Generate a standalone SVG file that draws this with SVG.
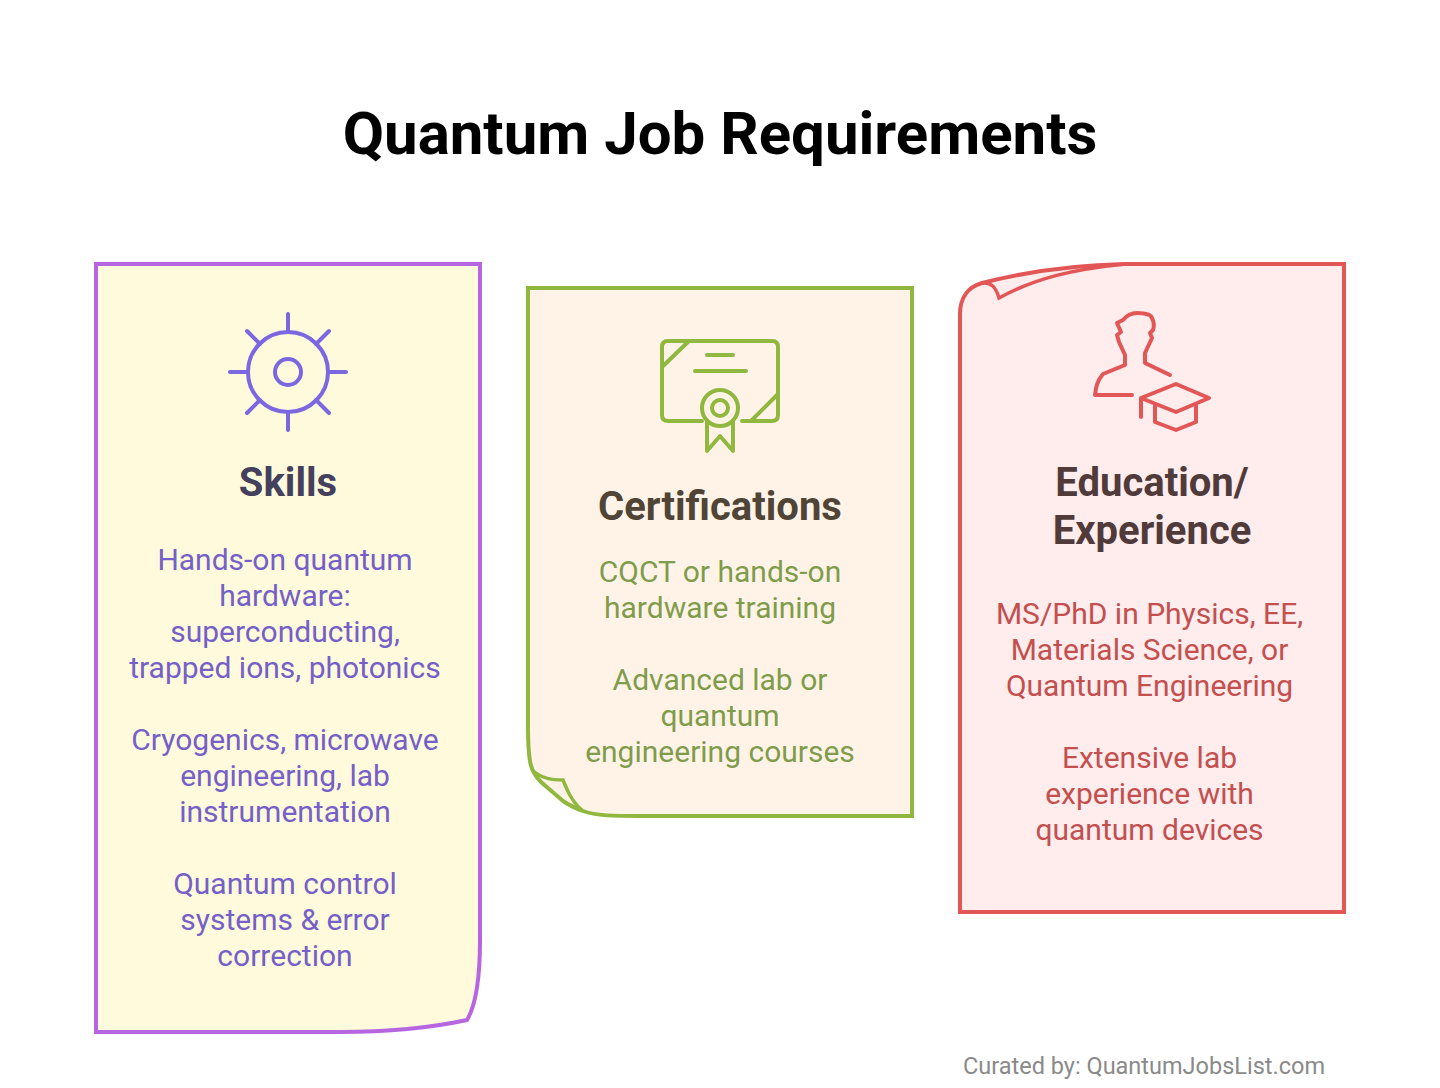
<svg xmlns="http://www.w3.org/2000/svg" width="1440" height="1088" viewBox="0 0 1440 1088">
<style>
text{font-family:Roboto,"Liberation Sans",sans-serif;text-anchor:middle}
.h{font-size:40px;font-weight:700}
.b{font-size:30px}
.card{stroke-width:4;stroke-miterlimit:10}
.ic{fill:none;stroke-width:4;stroke-linecap:round;stroke-linejoin:round}
</style>
<rect width="1440" height="1088" fill="#fff"/>
<text id="title" x="720" y="154" font-size="60" font-weight="700" fill="#000">Quantum Job Requirements</text>
<g id="skills">
<path class="card" fill="#fffadb" stroke="#b566e0" d="M96 264H480V940C480 975 476 1005 467 1020C430 1028 390 1032 340 1032H96Z"/>
<g class="ic" stroke="#7b68e0"><circle cx="288" cy="372" r="40"/><circle cx="288" cy="372" r="13"/><path d="M288 314V332M288 412V430M230 372H248M328 372H346M247 331L260 344M329 331L316 344M247 413L260 400M329 413L316 400"/></g>
<text class="h" x="288" y="496" fill="#45405e">Skills</text>
<g class="b" fill="#755fc8"><text x="285" y="570">Hands-on quantum</text><text x="285" y="606">hardware:</text><text x="285" y="642">superconducting,</text><text x="285" y="678">trapped ions, photonics</text><text x="285" y="750">Cryogenics, microwave</text><text x="285" y="786">engineering, lab</text><text x="285" y="822">instrumentation</text><text x="285" y="894">Quantum control</text><text x="285" y="930">systems &amp; error</text><text x="285" y="966">correction</text></g>
</g>
<g id="certifications">
<path class="card" fill="#fff3e8" stroke="#90b83e" d="M528 288H912V816H640C615 816 596 816 583 811C575 808 570 806 563 801L541 782C531 772 528 765 528 725Z"/>
<path fill="none" stroke="#90b83e" stroke-width="3.5" d="M532 770C542 779 553 780 563 780C567 790 572 802 582 810"/>
<g class="ic" stroke="#90b83e"><path d="M702 421H668Q662 421 662 415V347Q662 341 668 341H772Q778 341 778 347V415Q778 421 772 421H742M689 341L662 367M778 394L751 421M707 355H733M695 371H746"/><circle cx="720" cy="408" r="18"/><circle cx="720" cy="408" r="8"/><path d="M707 421V451L720 436L733 451V421"/></g>
<text class="h" x="720" y="520" fill="#4f4436">Certifications</text>
<g class="b" fill="#7f9c4a"><text x="720" y="582">CQCT or hands-on</text><text x="720" y="618">hardware training</text><text x="720" y="690">Advanced lab or</text><text x="720" y="726">quantum</text><text x="720" y="762">engineering courses</text></g>
</g>
<g id="education">
<path class="card" fill="#ffecec" stroke="#e25656" d="M960 912H1344V264H1125C1075 265 1025 272 982 283C968 287 960 298 960 314Z"/>
<path fill="none" stroke="#e25656" stroke-width="3.5" d="M982 283C992 282 996 288 999 298C1035 278 1075 269 1125 264"/>
<g class="ic" stroke="#e25656"><path d="M1095 395C1096 387 1097 381 1103 374L1125 365V355L1119 342L1117 335L1121 332L1117 323L1123 320C1127 315 1132 313 1137 313C1146 313 1151 315 1152 318C1154 322 1154 327 1153 330L1150 333L1152 338L1145 353V363L1170 375M1095 395H1132M1141 398L1176 384L1209 398L1176 412ZM1141 398V417M1155 405V422L1176 430L1196 422V405"/></g>
<text class="h" x="1152" y="496" fill="#503a3a">Education/</text><text class="h" x="1152" y="544" fill="#503a3a">Experience</text>
<g class="b" fill="#c44f4f"><text x="1149.500" y="624">MS/PhD in Physics, EE,</text><text x="1149.500" y="660">Materials Science, or</text><text x="1149.500" y="696">Quantum Engineering</text><text x="1149.500" y="768">Extensive lab</text><text x="1149.500" y="804">experience with</text><text x="1149.500" y="840">quantum devices</text></g>
</g>
<text id="credit" x="1144" y="1074" font-size="23.5" fill="#8a8a8a">Curated by: QuantumJobsList.com</text>
</svg>
